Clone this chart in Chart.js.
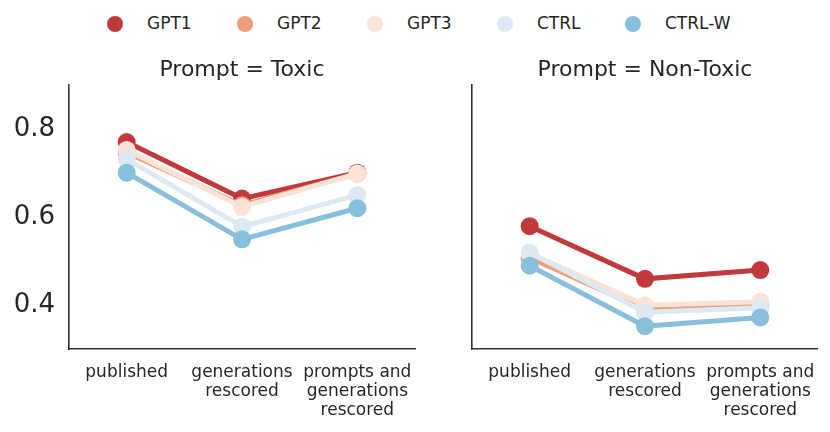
<!DOCTYPE html>
<html>
<head>
<meta charset="utf-8">
<script src="https://cdn.jsdelivr.net/npm/chart.js@4/dist/chart.umd.min.js"></script>
<style>
  body { margin: 0; background: #fff; font-family: "DejaVu Sans", sans-serif; }
  #wrap { position: relative; width: 830px; height: 432px; }
  #legend { position: absolute; top: 11px; left: 0; width: 830px; height: 24px; }
  .dot { position: absolute; top: 5px; width: 16px; height: 16px; border-radius: 50%; }
  .txt { position: absolute; top: 0; height: 24px; line-height: 24px; font-size: 17px; color: #262626; white-space: nowrap; }
  #c1 { position: absolute; left: 0; top: 0; }
  #c2 { position: absolute; left: 430px; top: 0; }
</style>
</head>
<body>
<div id="wrap">
  <div id="legend"></div>
  <canvas id="c1" width="430" height="432"></canvas>
  <canvas id="c2" width="400" height="432"></canvas>
</div>
<script>
// data
const stages = ["published", ["generations", "rescored"], ["prompts and", "generations", "rescored"]];
const models = ["GPT1", "GPT2", "GPT3", "CTRL", "CTRL-W"];
const colores = ["#c0393b", "#f09c7b", "#fae3d6", "#dce9f2", "#87bfdc"];

const toxicGPT1 = [0.772, 0.643, 0.702];
const toxicGPT2 = [0.748, 0.628, 0.700];
const toxicGPT3 = [0.754, 0.624, 0.700];
const toxicCTRL = [0.733, 0.579, 0.651];
const toxicCTRLW = [0.702, 0.550, 0.621];

const nonGPT1 = [0.580, 0.460, 0.480];
const nonGPT2 = [0.508, 0.390, 0.398];
const nonGPT3 = [0.518, 0.400, 0.408];
const nonCTRL = [0.520, 0.384, 0.394];
const nonCTRLW = [0.490, 0.352, 0.372];

const yTicks = [0.4, 0.6, 0.8];

// legenda
const dotX = [107, 237, 367, 497, 625];
const txtX = [147, 277, 407, 537, 665];
const lg = document.getElementById("legend");
models.forEach(function (m, i) {
  const d = document.createElement("span");
  d.className = "dot";
  d.style.left = dotX[i] + "px";
  d.style.background = colores[i];
  lg.appendChild(d);
  const t = document.createElement("span");
  t.className = "txt";
  t.style.left = txtX[i] + "px";
  t.textContent = m;
  lg.appendChild(t);
});

// titulo centrado sobre el area del grafico
const panelTitle = {
  id: 'panelTitle',
  afterDraw: function (chart, args, opts) {
    const a = chart.chartArea;
    const ctx = chart.ctx;
    ctx.save();
    ctx.fillStyle = '#262626';
    ctx.font = '22px "DejaVu Sans"';
    ctx.textAlign = 'center';
    ctx.textBaseline = 'middle';
    ctx.fillText(opts.text, (a.left + a.right) / 2, 70);
    ctx.restore();
  }
};

function makeSets(series) {
  return series.map(function (vals, i) {
    return {
      label: models[i],
      data: vals,
      borderColor: colores[i],
      backgroundColor: colores[i],
      borderWidth: 5,
      pointRadius: 9,
      pointHoverRadius: 9,
      pointBorderWidth: 0,
      tension: 0,
      order: models.length - i
    };
  });
}

function makeChart(id, titulo, series, showY, yWidth, padRight) {
  return new Chart(document.getElementById(id), {
    type: 'line',
    data: { labels: stages, datasets: makeSets(series) },
    plugins: [panelTitle],
    options: {
      responsive: false,
      animation: false,
      layout: { padding: { right: padRight, bottom: 0, left: 0, top: 85 } },
      plugins: {
        legend: { display: false },
        tooltip: { enabled: false },
        title: { display: false },
        panelTitle: { text: titulo }
      },
      scales: {
        x: {
          offset: true,
          grid: { display: false, drawTicks: false },
          border: { display: true, color: '#333', width: 1.6 },
          ticks: {
            color: '#262626',
            padding: 14,
            maxRotation: 0,
            autoSkip: false,
            font: { family: 'DejaVu Sans', size: 17, lineHeight: 1.12 }
          },
          afterFit: function (s) { s.height = 83; }
        },
        y: {
          min: 0.3,
          max: 0.902,
          grid: { display: false, drawTicks: false },
          border: { display: true, color: '#333', width: 1.6 },
          afterBuildTicks: function (s) { s.ticks = yTicks.map(function (v) { return { value: v }; }); },
          ticks: {
            display: showY,
            color: '#262626',
            padding: 14,
            font: { family: 'DejaVu Sans', size: 26 },
            callback: function (v) { return v.toFixed(1); }
          },
          afterFit: function (s) { s.width = yWidth; }
        }
      }
    }
  });
}

makeChart("c1", "Prompt = Toxic", [toxicGPT1, toxicGPT2, toxicGPT3, toxicCTRL, toxicCTRLW], true, 69, 15);
makeChart("c2", "Prompt = Non-Toxic", [nonGPT1, nonGPT2, nonGPT3, nonCTRL, nonCTRLW], false, 42, 10);
</script>
</body>
</html>
